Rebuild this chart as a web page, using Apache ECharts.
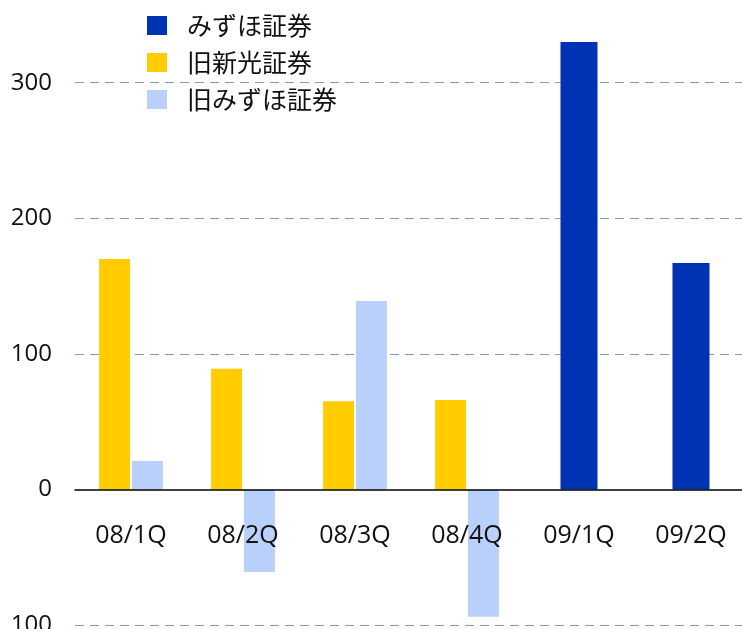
<!DOCTYPE html>
<html><head><meta charset="utf-8">
<script src="https://cdn.jsdelivr.net/npm/echarts@6/dist/echarts.min.js"></script>
<style>html,body{margin:0;padding:0;background:#fff}#c{width:742px;height:629px}</style>
</head><body><div id="c"></div>
<script>
var categories = ['08/1Q','08/2Q','08/3Q','08/4Q','09/1Q','09/2Q'];
var seriesNames = ['みずほ証券','旧新光証券','旧みずほ証券'];
var mizuho = [null, null, null, null, 330, 167];
var shinko = [170, 89, 65, 66, null, null];
var oldMizuho = [21, -61, 139, -94, null, null];
var gridValues = [300, 200, 100, -100];
var tickLabels = {'-100':'100','0':'0','100':'100','200':'200','300':'300'};

var yMin = -100, yMax = 330;
var gridH = 583;
var zeroOffset = -(0 - yMin) / (yMax - yMin) * gridH;

var font = '"Noto Sans CJK JP","Noto Sans",sans-serif';
var numFont = '"Open Sans","Noto Sans",sans-serif';
var chart = echarts.init(document.getElementById('c'));
chart.setOption({
  animation: false,
  textStyle: {fontFamily: font},
  grid: {left: 75, top: 42, width: 672, height: gridH, containLabel: false, outerBoundsMode: 'none'},
  legend: {
    orient: 'vertical', left: 147, top: 13, padding: 0,
    itemWidth: 20, itemHeight: 19, itemGap: 12,
    icon: 'rect',
    data: seriesNames,
    textStyle: {fontSize: 25, color: '#111', fontFamily: font, padding: [0,0,0,15]}
  },
  xAxis: [{
    type: 'category', data: categories, position: 'bottom', offset: zeroOffset, z: 20,
    axisLine: {onZero: false, lineStyle: {color: '#000', width: 1.5}},
    axisTick: {show: false},
    axisLabel: {show: true, interval: 0, fontSize: 25, color: '#111', margin: 34, fontFamily: numFont}
  },{
    type: 'category', data: categories, show: false, position: 'top'
  }],
  yAxis: {
    type: 'value', min: yMin, max: yMax, interval: 100,
    axisLine: {show: false}, axisTick: {show: false},
    splitLine: {show: false},
    axisLabel: {
      fontSize: 24, color: '#111', margin: 23, showMaxLabel: false, fontFamily: numFont,
      padding: [0, 0, 6, 0],
      formatter: function(v){ return tickLabels[String(v)] !== undefined ? tickLabels[String(v)] : ''; }
    }
  },
  series: [{
    name: seriesNames[0], type: 'bar', xAxisIndex: 1, data: mizuho,
    barWidth: 37, z: 10,
    itemStyle: {color: '#0033b3'}
  },{
    name: seriesNames[1], type: 'bar', data: shinko,
    barWidth: 31, barGap: '6%', z: 10,
    itemStyle: {color: '#ffcc00'},
    markLine: {
      silent: true, symbol: 'none', z: 1,
      label: {show: false},
      lineStyle: {color: '#7b9dcb', type: [9, 6], width: 1},
      data: gridValues.map(function(v){ return {yAxis: v}; })
    }
  },{
    name: seriesNames[2], type: 'bar', data: oldMizuho,
    barWidth: 31, barGap: '6%', z: 10,
    itemStyle: {color: '#bad0fc'}
  }]
});
</script></body></html>
